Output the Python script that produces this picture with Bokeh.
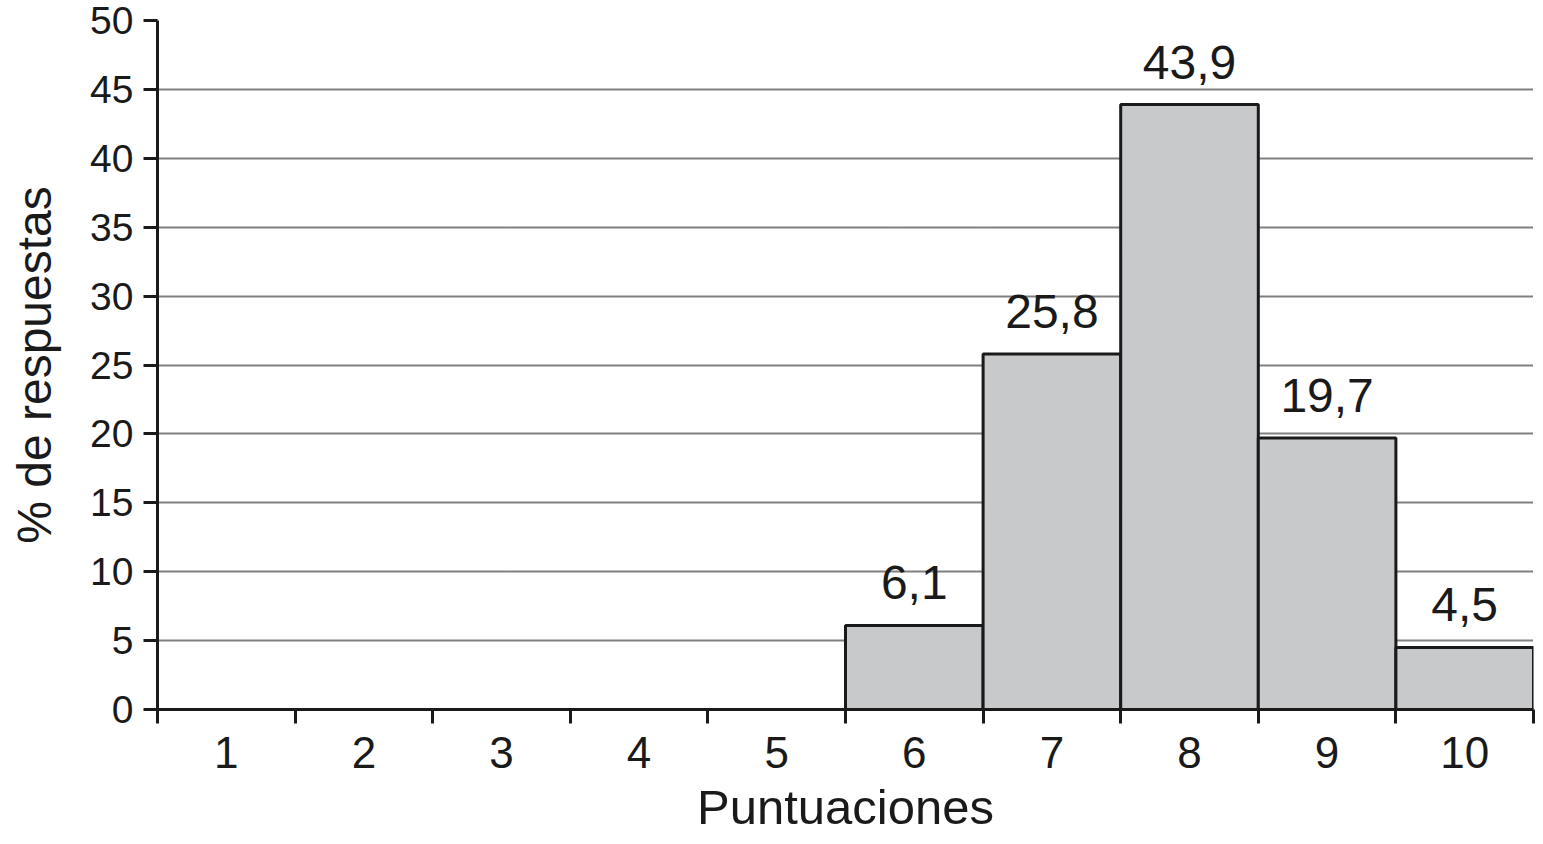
from bokeh.plotting import figure
from bokeh.models import ColumnDataSource, FixedTicker, Range1d, LabelSet
from bokeh.embed import file_html
from bokeh.resources import INLINE
from bokeh.core.properties import value

categories = ["1", "2", "3", "4", "5", "6", "7", "8", "9", "10"]
percentages = [0, 0, 0, 0, 0, 6.1, 25.8, 43.9, 19.7, 4.5]
y_ticks = [0, 5, 10, 15, 20, 25, 30, 35, 40, 45, 50]

FONT = "Liberation Sans"
TXT = "#1a1a1a"

xs = [i + 1 for i in range(len(categories))]
bx, btop, blab = [], [], []
for x, v in zip(xs, percentages):
    if v > 0:
        bx.append(x)
        btop.append(v)
        blab.append(f"{v:.1f}".replace(".", ","))
src = ColumnDataSource(dict(x=bx, top=btop, label=blab))

p = figure(width=1535, height=836, output_backend="svg", toolbar_location=None,
           x_range=Range1d(0.5, len(categories) + 0.5), y_range=Range1d(0, 50),
           min_border_left=157, min_border_top=20, min_border_bottom=110, min_border_right=2)
p.outline_line_color = None
p.background_fill_color = "white"
p.border_fill_color = "white"

p.vbar(x="x", top="top", bottom=0, width=1.0, source=src,
       fill_color="#c8c9cb", line_color="#1a1a1a", line_width=3)

labels = LabelSet(x="x", y="top", text="label", source=src, text_align="center",
                  text_baseline="alphabetic", y_offset=26, text_font=value(FONT),
                  text_font_size=value("48px"), text_color=TXT)
p.add_layout(labels)

# x axis
p.xaxis.ticker = FixedTicker(ticks=xs, minor_ticks=[x - 0.5 for x in xs] + [xs[-1] + 0.5])
p.xaxis.major_label_overrides = {x: c for x, c in zip(xs, categories)}
p.xaxis.minor_tick_line_color = "#1a1a1a"
p.xaxis.minor_tick_line_width = 3
p.xaxis.minor_tick_in = 0
p.xaxis.minor_tick_out = 14
p.xaxis.major_tick_in = 0
p.xaxis.major_tick_out = 0
p.xaxis.major_label_standoff = 13
p.xaxis.axis_label = "Puntuaciones"
p.xaxis.axis_label_standoff = 9

# y axis
p.yaxis.ticker = FixedTicker(ticks=y_ticks)
p.yaxis.major_tick_line_width = 3
p.yaxis.major_tick_in = 0
p.yaxis.major_tick_out = 14
p.yaxis.minor_tick_line_color = None
p.yaxis.major_label_standoff = 10
p.yaxis.axis_label = "% de respuestas"
p.yaxis.axis_label_standoff = 26

for ax in (p.xaxis, p.yaxis):
    ax.axis_line_width = 3
    ax.axis_line_color = "#1a1a1a"
    ax.major_label_text_font = FONT
    ax.major_label_text_color = TXT
    ax.axis_label_text_font = FONT
    ax.axis_label_text_color = TXT
    ax.axis_label_text_font_style = "normal"
p.xaxis.major_tick_line_color = None
p.yaxis.major_tick_line_color = "#1a1a1a"

p.xaxis.major_label_text_font_size = "44px"
p.yaxis.major_label_text_font_size = "39px"
p.xaxis.axis_label_text_font_size = "49px"
p.yaxis.axis_label_text_font_size = "48px"

p.xgrid.grid_line_color = None
p.ygrid.ticker = FixedTicker(ticks=y_ticks)
p.ygrid.grid_line_color = "#000000"
p.ygrid.grid_line_width = 2
p.ygrid.grid_line_dash = "1 1"

open("out.html", "w").write(file_html(p, INLINE))
